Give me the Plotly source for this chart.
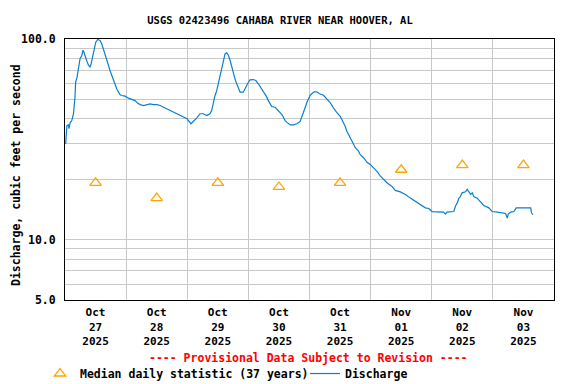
import plotly.graph_objects as go

# ---- Data ----
d27 = ["00:15","00:45","01:20","01:35","02:00","02:40","03:20","03:40","03:55","04:10","04:45","05:15","05:30","05:55",
       "06:35","07:05","07:20","07:50","08:30","09:10","09:50","10:15","10:45","11:10","11:35","12:05","12:50","13:45",
       "14:25","15:05","15:45","16:25","17:05","17:40","18:20","19:00","19:40","20:20","21:00","21:40","22:20","23:35"]
v27 = [30.0,37.0,37.3,35.7,38.2,39.2,42.4,45.7,51.3,60.9,64.5,71.0,75.2,79.7,
       82.8,87.9,86.6,82.1,78.1,74.3,72.3,75.2,80.2,85.9,91.0,96.4,99.4,98.3,
       94.6,89.4,82.8,78.1,73.8,69.7,65.8,62.1,58.6,56.4,54.3,52.7,52.3,51.9]
d28 = ["00:55","02:15","03:30","04:35","05:30","06:50","08:10","09:25","10:45","12:05","13:20","14:45","16:00","17:20",
       "18:40","19:55","21:15","22:35","23:55"]
v28 = [50.7,49.9,49.3,47.8,47.1,46.6,47.1,47.5,47.1,47.1,46.6,45.7,44.9,44.0,
       43.1,42.4,41.5,40.7,40.0]
d29 = ["01:10","01:25","02:20","03:40","05:00","06:15","07:40","08:55","09:35","10:15","10:55","11:35","12:10","12:50",
       "13:30","14:10","14:50","15:30","16:10","16:50","17:30","18:05","18:45","19:25","20:05","20:45","22:00","22:40","23:20"]
v29 = [38.2,37.8,38.8,40.3,42.4,42.4,41.5,42.4,44.0,48.4,52.3,55.3,59.8,65.8,
       72.3,79.7,84.4,85.4,82.8,78.1,72.3,67.1,63.3,59.8,56.8,54.3,54.3,56.0,58.6]
d30 = ["00:00","00:40","01:55","02:55","03:55","05:15","06:35","07:15","07:50","08:30","09:10","10:30","11:50","13:10",
       "13:45","14:25","15:05","16:25","17:40","19:00","20:20","21:00","21:40","22:20","23:00","23:35"]
v30 = [60.9,62.6,62.8,62.1,59.8,56.4,53.3,51.3,49.3,47.5,46.1,45.7,44.0,42.0,
       40.7,39.2,38.5,37.3,37.3,37.8,38.8,40.7,43.1,45.7,48.4,50.3]
d31 = ["00:15","00:55","01:50","02:55","03:55","05:30","06:50","08:10","09:25","10:45","12:05","12:45","13:20","14:00",
       "14:40","15:20","16:00","16:40","17:20","18:00","19:15","19:55","21:15","22:35","23:50"]
v31 = [52.3,53.3,54.5,54.5,53.3,52.4,50.5,48.1,45.4,42.9,41.2,39.7,38.2,36.7,
       34.7,33.4,32.2,30.9,29.8,28.7,27.6,26.5,25.6,24.3,23.7]
d01 = ["01:10","02:30","03:50","05:05","06:25","08:25","09:40","11:40","13:40","15:35","17:35","19:30","21:30","22:50"]
v01 = [22.8,21.9,20.7,19.9,19.2,18.4,17.6,17.3,16.8,16.1,15.5,14.9,14.4,14.3]
d02 = ["00:10","04:40","05:20","06:00","08:40","09:20","10:00","10:35","11:15","11:55","13:15","13:55","14:35","15:15",
       "15:55","16:30","17:50","19:10","20:25","22:25","23:45"]
v02 = [13.8,13.7,13.4,13.7,13.8,14.7,15.2,16.0,16.4,17.1,17.3,17.8,17.4,16.8,
       17.1,16.4,16.1,15.5,14.8,14.4,13.8]
d03 = ["01:45","05:00","05:40","06:00","07:00","08:15","09:10","10:10","14:50","15:10","15:40"]
v03 = [13.7,13.5,12.8,13.4,13.7,13.8,14.4,14.4,14.4,13.6,13.3]

days = ["2025-10-27","2025-10-28","2025-10-29","2025-10-30","2025-10-31","2025-11-01","2025-11-02","2025-11-03"]
day_times = [d27, d28, d29, d30, d31, d01, d02, d03]
day_vals = [v27, v28, v29, v30, v31, v01, v02, v03]

median_vals = [19.2, 16.1, 19.2, 18.3, 19.2, 22.3, 23.5, 23.5]
tick_text = ["Oct<br>27<br>2025","Oct<br>28<br>2025","Oct<br>29<br>2025","Oct<br>30<br>2025",
             "Oct<br>31<br>2025","Nov<br>01<br>2025","Nov<br>02<br>2025","Nov<br>03<br>2025"]
grid_days = days + ["2025-11-04"]
y_ticks = [5, 10, 100]
y_tick_text = ["5.0", "10.0", "100.0"]
y_minor = [6, 7, 8, 9, 20, 30, 40, 50, 60, 70, 80, 90]

# ---- Build series ----
q_time, q_val = [], []
for d, ts, vs in zip(days, day_times, day_vals):
    for t, v in zip(ts, vs):
        q_time.append(f"{d} {t}")
        q_val.append(v)
noon = [f"{d} 12:00" for d in days]

FONT = "DejaVu Sans Mono"
L, R, T, B = 57, 30, 31, 92
PW, PH = 576 - L - R, 384 - T - B

fig = go.Figure()
fig.add_trace(go.Scatter(
    x=noon, y=median_vals, mode="markers", name="<b>Median daily statistic (37 years)</b>",
    marker=dict(symbol="triangle-up-open", size=10, color="#ffa500", line=dict(width=1.3, color="#ffa500")),
    legend="legend",
))
fig.add_trace(go.Scatter(
    x=q_time, y=q_val, mode="lines", name="<b>Discharge</b>",
    line=dict(color="#0a7fcf", width=1.2),
    legend="legend2",
))

leg_common = dict(orientation="h", xanchor="left", yanchor="top", xref="container", yref="container",
                  font=dict(family=FONT, size=11.5, color="black"), bgcolor="rgba(0,0,0,0)", itemwidth=30)

fig.update_layout(
    width=576, height=384,
    margin=dict(l=L, r=R, t=T, b=B),
    paper_bgcolor="white", plot_bgcolor="white",
    font=dict(family=FONT, size=11, color="black"),
    title=dict(text="<b>USGS 02423496 CAHABA RIVER NEAR HOOVER, AL</b>",
               x=272/576, xanchor="center", xref="container",
               y=1-12/384, yanchor="middle", yref="container",
               font=dict(family=FONT, size=10.5, color="black")),
    showlegend=True,
    legend=dict(x=32/576, y=0.0859, **leg_common),
    legend2=dict(x=297/576, y=0.0859, **leg_common),
)

fig.update_xaxes(
    type="date", range=["2025-10-27", "2025-11-04"], automargin=False,
    tickmode="array", tickvals=noon, ticktext=[f"<b>{t}</b>" for t in tick_text],
    showgrid=False, ticks="", tickfont=dict(family=FONT, size=11), ticklabelstandoff=2,
    showline=True, linecolor="black", linewidth=1, mirror=True,
    minor=dict(tickmode="array", tickvals=grid_days, showgrid=True, gridcolor="#c8c8c8", gridwidth=1, ticks=""),
    zeroline=False,
)
fig.update_yaxes(
    type="log", range=[0.69897, 2.0], automargin=False,
    tickmode="array", tickvals=y_ticks, ticktext=[f"<b>{t}</b>" for t in y_tick_text],
    showgrid=True, gridcolor="#c8c8c8", gridwidth=1, ticks="", ticklabelstandoff=6,
    tickfont=dict(family=FONT, size=11.5),
    showline=True, linecolor="black", linewidth=1, mirror=True,
    minor=dict(tickmode="array", tickvals=y_minor, showgrid=True, gridcolor="#c8c8c8", gridwidth=1, ticks=""),
    zeroline=False,
)

fig.add_annotation(text="<b>Discharge, cubic feet per second</b>", textangle=-90,
                   xref="paper", yref="paper", x=(8-L)/PW, y=(384-B-167)/PH,
                   xanchor="center", yanchor="middle", showarrow=False,
                   font=dict(family=FONT, size=11.5, color="black"))
fig.add_annotation(text="<b>---- Provisional Data Subject to Revision ----</b>",
                   xref="paper", yref="paper", x=(300-L)/PW, y=(384-B-350)/PH,
                   xanchor="center", yanchor="middle", showarrow=False,
                   font=dict(family=FONT, size=11.5, color="red"))

fig.write_html("out.html")
